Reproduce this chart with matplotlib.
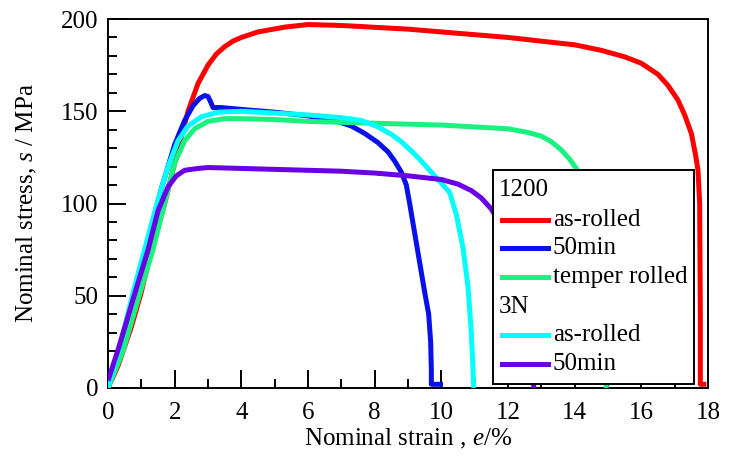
import matplotlib
matplotlib.use('Agg')
import matplotlib.pyplot as plt
from matplotlib.patches import Rectangle
from matplotlib.lines import Line2D

plt.rcParams['font.family'] = 'serif'
plt.rcParams['font.serif'] = ['Liberation Serif', 'TeX Gyre Termes', 'DejaVu Serif']
plt.rcParams['mathtext.fontset'] = 'custom'
plt.rcParams['mathtext.rm'] = 'Liberation Serif'
plt.rcParams['mathtext.it'] = 'Liberation Serif:italic'

# 1200 as-rolled
red_x = [0, 0.3, 0.7, 1.0, 1.3, 1.7, 2.0, 2.4, 2.7, 3.0, 3.25, 3.5, 3.75, 4.0, 4.5, 5.3,
         6.0, 7.0, 8.0, 9.0, 10.0, 11.0, 12.0, 13.0, 14.0, 14.8, 15.5, 16.0, 16.5, 16.8,
         17.1, 17.3, 17.5, 17.62, 17.7, 17.75, 17.77, 17.77, 17.95]
red_y = [0, 12, 33, 52, 75, 100, 122, 150, 165, 175, 181, 185, 188, 190, 193, 195.6,
         197, 196.5, 195.5, 194.5, 193, 191.5, 190, 188, 186, 183, 179.5, 176, 170, 164,
         156, 148, 138, 127, 118, 100, 40, 2, 2]

# 1200 50min
blue_x = [0, 0.4, 0.8, 1.2, 1.6, 2.0, 2.3, 2.55, 2.75, 2.9, 3.0, 3.08, 3.15, 3.4, 4.0, 5.0,
          6.0, 6.8, 7.3, 7.7, 8.1, 8.4, 8.6, 8.8, 8.95, 9.05, 9.2, 9.35, 9.5, 9.62, 9.68,
          9.7, 9.7, 10.05]
blue_y = [0, 25, 52, 80, 108, 132, 145, 153, 157, 158.5, 158, 155, 152, 152, 151, 149.5,
          147.5, 145, 142, 138, 133, 128, 123, 117, 110, 100, 84, 68, 52, 40, 25,
          10, 2, 2]

# 1200 temper rolled
green_x = [0, 0.45, 0.96, 1.35, 1.7, 2.0, 2.3, 2.6, 3.0, 3.5, 4.0, 5.0, 6.0, 7.0, 8.0, 9.0,
           10.0, 11.0, 12.0, 12.6, 13.0, 13.3, 13.6, 13.85, 14.05, 14.25, 14.45, 14.6,
           14.75, 14.85, 14.92, 14.95]
green_y = [0, 20, 51.5, 75, 100, 122, 134, 140.5, 144.5, 146, 146, 145.5, 144.5, 144, 143.5,
           143, 142.5, 141.5, 140.5, 138.5, 136.5, 133.5, 129, 124, 119, 111, 98, 82,
           60, 35, 12, 0]

# 3N as-rolled
cyan_x = [0, 0.4, 0.8, 1.2, 1.5, 1.8, 2.1, 2.4, 2.8, 3.3, 4.0, 5.0, 6.0, 7.0, 7.6, 8.1,
          8.5, 8.8, 9.1, 9.4, 9.7, 10.0, 10.25, 10.45, 10.65, 10.8, 10.9, 10.95, 10.97]
cyan_y = [0, 26, 55, 82, 102, 120, 134, 142, 147, 149.5, 150, 149, 148, 146.5, 145, 141.5,
          137.5, 133.5, 128.5, 123, 117, 111, 106, 94, 76, 55, 30, 10, 0]

# 3N 50min
purple_x = [0, 0.3, 0.81, 1.2, 1.5, 1.8, 2.05, 2.3, 2.7, 3.0, 4.0, 5.0, 6.0, 7.0, 8.0, 9.0,
            10.0, 10.5, 10.9, 11.2, 11.5, 11.8, 12.1, 12.35, 12.55, 12.7, 12.78]
purple_y = [4, 20.6, 51.5, 74.8, 96, 109, 115, 118, 119, 119.5, 119, 118.5, 118, 117.5,
            116.5, 115, 113, 110.5, 107, 103, 97, 88, 75, 55, 30, 10, 0]

# drawing order follows the original (cyan sits on top of blue and green)
curves = [(red_x, red_y, '#ff0000'), (blue_x, blue_y, '#0a10e8'),
          (green_x, green_y, '#19f27f'), (cyan_x, cyan_y, '#00ffff'),
          (purple_x, purple_y, '#6a00e6')]

legend_rows = [('1200', None), ('as-rolled', '#ff0000'), ('50min', '#0a10e8'),
               ('temper rolled', '#19f27f'), ('3N', None), ('as-rolled', '#00ffff'),
               ('50min', '#6a00e6')]

W, H = 729, 466
fig = plt.figure(figsize=(W / 100, H / 100), dpi=100)
ax = fig.add_axes([108 / W, (H - 388) / H, (708 - 108) / W, (388 - 19) / H])

for x, y, c in curves:
    ax.plot(x, y, color=c, lw=3.6, solid_capstyle='butt', zorder=3)

ax.set_xlim(0, 18)
ax.set_ylim(0, 200)
ax.set_xticks(range(0, 19, 2))
ax.set_xticks(range(1, 18, 2), minor=True)
ax.set_yticks(range(0, 201, 50))
ax.set_yticks([v for v in range(10, 200, 10) if v % 50], minor=True)
ax.tick_params(which='both', direction='in', width=1.4, top=False, right=False,
               labelsize=18)
ax.tick_params(which='major', length=13)
ax.tick_params(which='minor', length=6.5)
ax.tick_params(axis='x', pad=10)
ax.tick_params(axis='y', pad=7)
for s in ax.spines.values():
    s.set_linewidth(1.4)

ax.set_xlabel('Nominal strain , $\\it{e}$/%', fontsize=18, labelpad=2)
ax.set_ylabel('Nominal stress, $\\it{s}$ / MPa', fontsize=18, labelpad=16)

# hand-made legend box
def px(x, y):
    return ax.transAxes.inverted().transform(fig.transFigure.transform((x / W, 1 - y / H)))

x0, y0 = px(493, 384)
x1, y1 = px(694, 170)
ax.add_patch(Rectangle((x0, y0), x1 - x0, y1 - y0, transform=ax.transAxes,
                       facecolor='white', edgecolor='black', lw=1.4, zorder=5,
                       clip_on=False))
row_y = [190, 220, 248, 277, 307, 335, 364]
for (label, c), ry in zip(legend_rows, row_y):
    if c is None:
        tx, ty = px(499, ry)
    else:
        lx0, ly = px(502, ry)
        lx1, _ = px(548, ry)
        ax.add_line(Line2D([lx0, lx1], [ly, ly], color=c, lw=3.6, transform=ax.transAxes,
                           zorder=6, clip_on=False))
        tx, ty = px(553, ry)
    ax.text(tx, ty, label, transform=ax.transAxes, fontsize=18, va='center', ha='left',
            zorder=6)

fig.savefig('out.png', dpi=100)
